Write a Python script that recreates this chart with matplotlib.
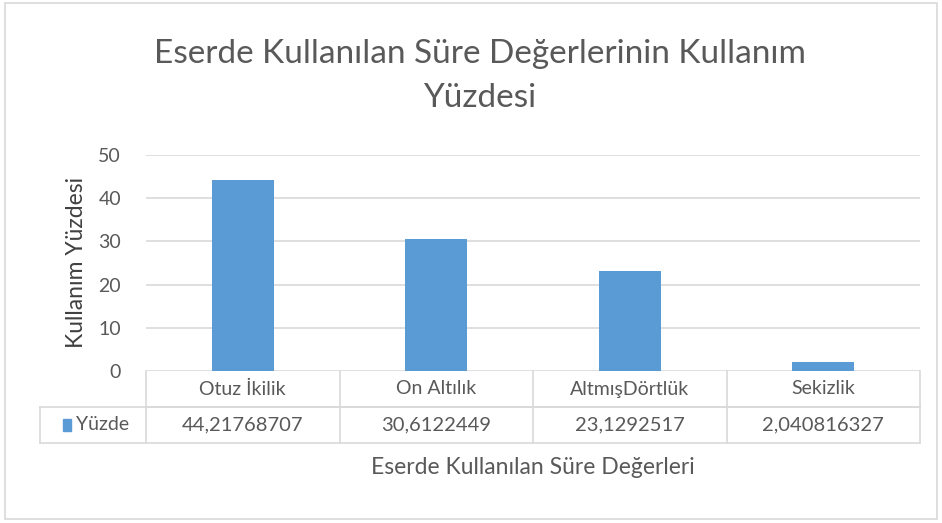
import matplotlib
matplotlib.use("Agg")
import matplotlib.pyplot as plt
from matplotlib.lines import Line2D
from matplotlib.patches import Rectangle

plt.rcParams['font.family'] = ['Lato', 'DejaVu Sans']

categories = ['Otuz İkilik', 'On Altılık', 'AltmışDörtlük', 'Sekizlik']
values = [44.21768707, 30.6122449, 23.1292517, 2.040816327]
value_labels = ['44,21768707', '30,6122449', '23,1292517', '2,040816327']
series_name = 'Yüzde'
yticks = [0, 10, 20, 30, 40, 50]

bar_color = '#5B9BD5'
text_color = '#595959'
line_color = '#d9d9d9'

W, H = 942, 523
fig = plt.figure(figsize=(W / 100, H / 100), dpi=100)

# outer chart border
fig.add_artist(Rectangle((5 / W, 1 - 519 / H), 932 / W, 516 / H, transform=fig.transFigure,
                         fill=False, edgecolor=line_color, lw=1.2))

left, right, top, bottom = 146, 920, 155, 371
ax = fig.add_axes([left / W, 1 - bottom / H, (right - left) / W, (bottom - top) / H])

x = list(range(len(categories)))
ax.bar(x, values, width=0.32, color=bar_color, zorder=3)
ax.set_xlim(-0.5, len(categories) - 0.5)
ax.set_ylim(0, 50)
ax.set_yticks(yticks)
ax.set_yticklabels([str(t) for t in yticks], fontsize=14, color=text_color)
ax.set_xticks([])
ax.tick_params(axis='y', length=0, pad=18)
ax.grid(axis='y', color=line_color, lw=1.2, zorder=0)
for s in ax.spines.values():
    s.set_visible(False)

ax.set_ylabel('Kullanım Yüzdesi', fontsize=16.5, color='#404040', labelpad=8)

# data table below axes
row_h = 36 / (bottom - top)
col_left = (40 - left) / (right - left)
trans = ax.transAxes


def hline(x0, x1, y):
    ax.add_line(Line2D([x0, x1], [y, y], transform=trans, color=line_color, lw=1.2, clip_on=False))


def vline(xv, y0, y1):
    ax.add_line(Line2D([xv, xv], [y0, y1], transform=trans, color=line_color, lw=1.2, clip_on=False))


hline(0, 1, -row_h)
hline(col_left, 1, -row_h)
hline(col_left, 1, -2 * row_h)
vline(col_left, -row_h, -2 * row_h)
n = len(categories)
for i in range(n + 1):
    vline(i / n, 0, -2 * row_h)

for i, (c, v) in enumerate(zip(categories, value_labels)):
    xc = (i + 0.5) / n
    ax.text(xc, -0.5 * row_h, c, transform=trans, ha='center', va='center',
            fontsize=14, color=text_color)
    ax.text(xc, -1.5 * row_h, v, transform=trans, ha='center', va='center',
            fontsize=14.5, color=text_color)

key_w = 8 / (right - left)
key_h = 12 / (bottom - top)
ax.add_patch(Rectangle(((63 - left) / (right - left), -1.5 * row_h - key_h / 2), key_w, key_h,
                       transform=trans, color=bar_color, clip_on=False))
ax.text((76 - left) / (right - left), -1.5 * row_h, series_name, transform=trans,
        ha='left', va='center', fontsize=14, color=text_color)

fig.text(533 / W, 1 - 468 / H, 'Eserde Kullanılan Süre Değerleri', ha='center', va='center',
         fontsize=16.5, color=text_color)

fig.text(480 / W, 1 - 76 / H, 'Eserde Kullanılan Süre Değerlerinin Kullanım\nYüzdesi',
         ha='center', va='center', fontsize=24, color=text_color, linespacing=1.6)

fig.savefig('out.png', dpi=100)
